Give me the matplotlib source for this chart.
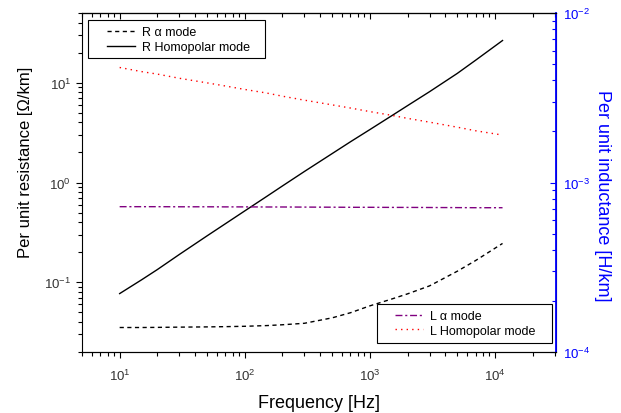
import matplotlib
matplotlib.use("Agg")
import matplotlib.pyplot as plt
from matplotlib.ticker import LogLocator, NullFormatter
from matplotlib.patches import Rectangle

plt.rcParams['font.family'] = ['Liberation Sans', 'DejaVu Sans']
plt.rcParams['mathtext.fontset'] = 'custom'
plt.rcParams['mathtext.rm'] = 'Liberation Sans'
plt.rcParams['mathtext.it'] = 'Liberation Sans:italic'

freq = [10, 15, 20, 30, 50, 70, 100, 150, 200, 300, 500, 700, 1000, 1500, 2000, 3000, 5000, 7000, 11500]
r_alpha = [0.0352, 0.0352, 0.0353, 0.0355, 0.0357, 0.0359, 0.0362, 0.0368, 0.0375, 0.0388, 0.0440, 0.0495,
           0.0580, 0.0680, 0.0765, 0.092, 0.129, 0.165, 0.245]
r_homo = [0.077, 0.106, 0.134, 0.190, 0.292, 0.386, 0.519, 0.726, 0.923, 1.29, 1.95, 2.56,
          3.39, 4.68, 5.89, 8.13, 12.4, 16.8, 26.5]
l_alpha = [7.2e-4, 7.2e-4, 7.2e-4, 7.19e-4, 7.19e-4, 7.18e-4, 7.18e-4, 7.17e-4, 7.17e-4, 7.16e-4, 7.15e-4,
           7.14e-4, 7.14e-4, 7.13e-4, 7.13e-4, 7.12e-4, 7.11e-4, 7.1e-4, 7.1e-4]
l_homo = [4.77e-3, 4.51e-3, 4.36e-3, 4.12e-3, 3.87e-3, 3.71e-3, 3.54e-3, 3.37e-3, 3.23e-3, 3.06e-3, 2.87e-3,
          2.75e-3, 2.62e-3, 2.49e-3, 2.39e-3, 2.27e-3, 2.12e-3, 2.02e-3, 1.905e-3]

W, H = 621, 414
fig = plt.figure(figsize=(W / 100, H / 100), dpi=100)
ax = fig.add_axes([82 / W, 1 - 353 / H, (555.7 - 82) / W, (353 - 14) / H])
ax2 = ax.twinx()

l1, = ax.plot(freq, r_alpha, color='black', lw=1.0, linestyle=(0, (3, 2.5)), label='R α mode')
l2, = ax.plot(freq, r_homo, color='black', lw=1.0, linestyle='-', label='R Homopolar mode')
l3, = ax2.plot(freq, l_alpha, color='#800080', lw=1.0, linestyle=(0, (5, 2, 1.5, 2)), label='L α mode')
l4, = ax2.plot(freq, l_homo, color='#ff0000', lw=1.0, linestyle=(0, (1, 3)), label='L Homopolar mode')

ax.set_xscale('log')
ax.set_yscale('log')
ax2.set_yscale('log')
ax.set_xlim(5, 30600)
ax.set_ylim(0.02, 50)
ax2.set_ylim(1e-4, 1e-2)

for a in (ax, ax2):
    a.xaxis.set_major_locator(LogLocator(base=10, numticks=10))
    a.xaxis.set_minor_locator(LogLocator(base=10, subs=range(2, 10), numticks=20))
    a.xaxis.set_minor_formatter(NullFormatter())
    a.yaxis.set_minor_locator(LogLocator(base=10, subs=range(2, 10), numticks=20))
    a.yaxis.set_minor_formatter(NullFormatter())

ax.tick_params(axis='both', which='major', direction='out', length=4.3, width=0.8, labelsize=9.5,
               colors='black', labelcolor='#333333')
ax.tick_params(axis='x', which='major', pad=7)
ax.tick_params(axis='both', which='minor', direction='out', length=2.8, width=0.8)
ax2.tick_params(axis='y', which='major', direction='in', length=4, width=0.8, colors='blue', labelsize=9.5, pad=5)
ax2.tick_params(axis='y', which='minor', direction='in', length=2.8, width=0.8, colors='blue')

top = ax.secondary_xaxis('top')
top.xaxis.set_major_locator(LogLocator(base=10, numticks=10))
top.xaxis.set_minor_locator(LogLocator(base=10, subs=range(2, 10), numticks=20))
top.tick_params(axis='x', which='major', direction='in', length=4.3, width=0.8, labeltop=False)
top.tick_params(axis='x', which='minor', direction='in', length=2.8, width=0.8, labeltop=False)
top.xaxis.set_major_formatter(NullFormatter())
top.xaxis.set_minor_formatter(NullFormatter())

for s in ('left', 'bottom', 'top'):
    ax.spines[s].set_linewidth(0.8)
ax2.spines['right'].set_color('blue')
ax2.spines['right'].set_linewidth(1.3)
ax2.spines['left'].set_visible(False)
top.spines['top'].set_linewidth(0.8)

ax.set_xlabel('Frequency [Hz]', fontsize=13, labelpad=8)
ax.set_ylabel('Per unit resistance [Ω/km]', fontsize=12, labelpad=8)
ax.yaxis.label.set_y(0.562)
ax2.set_ylabel('Per unit inductance [H/km]', fontsize=13, color='blue', rotation=270, labelpad=15)
ax2.yaxis.label.set_y(0.465)

# legend frames (decoration boxes, figure pixel layout)
def fig_box(x0, y0, x1, y1):
    r = Rectangle((x0 / W, 1 - y1 / H), (x1 - x0) / W, (y1 - y0) / H, transform=fig.transFigure,
                  facecolor='white', edgecolor='black', linewidth=0.8, zorder=5)
    ax2.add_artist(r)
    r.set_clip_on(False)

fig_box(88, 21, 265, 59)
fig_box(376.7, 305, 552, 344)

fs = 9
common = dict(frameon=False, fontsize=fs, handlelength=2.24, handletextpad=0.56, borderpad=0,
              borderaxespad=0, labelspacing=0.22, bbox_transform=fig.transFigure)
leg1 = ax2.legend(handles=[l1, l2], loc='upper left', bbox_to_anchor=(106.7 / W, 1 - 27.5 / H), **common)
leg1.set_zorder(6)
ax2.add_artist(leg1)
leg2 = ax2.legend(handles=[l3, l4], loc='upper left', bbox_to_anchor=(395 / W, 1 - 311 / H), **common)
leg2.set_zorder(6)

fig.savefig('out.png', dpi=100)
